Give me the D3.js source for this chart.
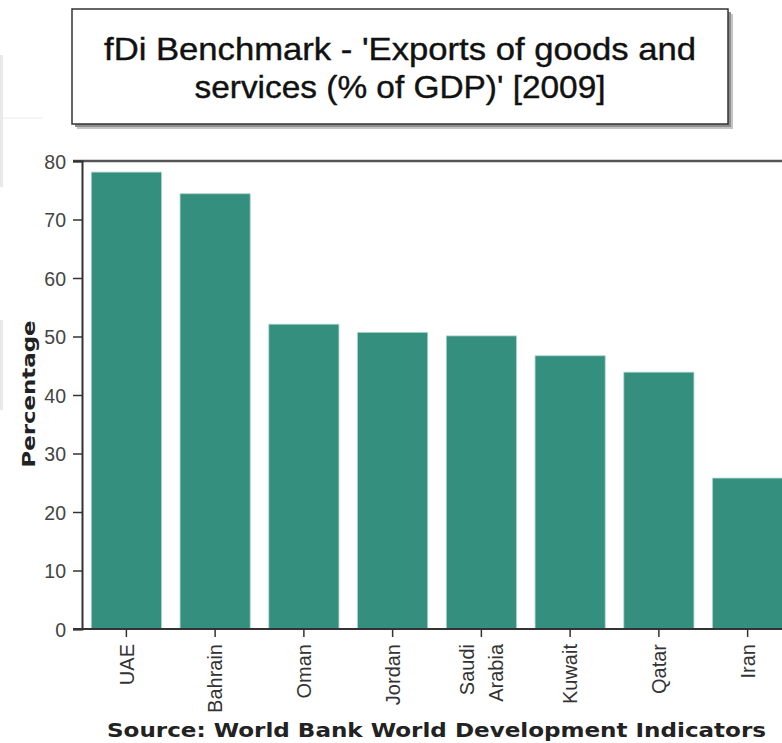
<!DOCTYPE html>
<html>
<head>
<meta charset="utf-8">
<script src="https://cdn.jsdelivr.net/npm/d3@7/dist/d3.min.js"></script>
<style>
  html, body { margin: 0; padding: 0; background: #fff; }
  svg { display: block; }
</style>
</head>
<body>
<script>
const categories = ["UAE", "Bahrain", "Oman", "Jordan", "Saudi Arabia", "Kuwait", "Qatar", "Iran"];
const values = [78.1, 74.4, 52.1, 50.7, 50.1, 46.7, 43.9, 25.8];
const yTicks = [0, 10, 20, 30, 40, 50, 60, 70, 80];
const titleLines = ["fDi Benchmark - 'Exports of goods and", "services (% of GDP)' [2009]"];
const yLabel = "Percentage";
const sourceText = "Source: World Bank World Development Indicators";

const W = 782, H = 743;
const svg = d3.select("body").append("svg").attr("width", W).attr("height", H);

// faint background artifacts at far left
svg.append("rect").attr("x", 0).attr("y", 55).attr("width", 3).attr("height", 132).attr("fill", "#e9e9e9");
svg.append("rect").attr("x", 3).attr("y", 117.5).attr("width", 40).attr("height", 1).attr("fill", "#ececec");
svg.append("rect").attr("x", 0).attr("y", 320).attr("width", 3).attr("height", 90).attr("fill", "#e9e9e9");

// title box with shadow
const tb = {x: 72, y: 9, w: 656, h: 115};
svg.append("rect").attr("x", tb.x + 5).attr("y", tb.y + 5).attr("width", tb.w).attr("height", tb.h).attr("fill", "#c4c4c4");
svg.append("rect").attr("x", tb.x + 3).attr("y", tb.y + 3).attr("width", tb.w).attr("height", tb.h).attr("fill", "#8f8f8f");
svg.append("rect").attr("x", tb.x).attr("y", tb.y).attr("width", tb.w).attr("height", tb.h)
  .attr("fill", "#fff").attr("stroke", "#333").attr("stroke-width", 1.5);
const titleLens = [592, 411];
const titleY = [60, 98];
titleLines.forEach((t, i) => {
  svg.append("text").attr("x", 400).attr("y", titleY[i]).attr("text-anchor", "middle")
    .attr("font-family", "Liberation Sans, Arial, sans-serif").attr("font-size", 32)
    .attr("fill", "#111").attr("stroke", "#111").attr("stroke-width", 0.4)
    .attr("textLength", titleLens[i]).attr("lengthAdjust", "spacingAndGlyphs")
    .text(t);
});

// scales
const x0 = 82, y0 = 629, yTop = 161;
const x = d3.scaleBand().domain(categories).range([x0, x0 + 8 * 88.75]).paddingInner(0.21).paddingOuter(0.105);
const y = d3.scaleLinear().domain([0, 80]).range([y0, yTop]);

// bars
svg.append("g").selectAll("rect").data(categories).join("rect")
  .attr("x", d => x(d)).attr("width", x.bandwidth())
  .attr("y", (d, i) => y(values[i])).attr("height", (d, i) => y0 - y(values[i]))
  .attr("fill", "#358f7e").attr("stroke", "#a9d3c8").attr("stroke-width", 0.8);

// top frame line
svg.append("line").attr("x1", 73).attr("x2", W).attr("y1", yTop).attr("y2", yTop)
  .attr("stroke", "#555").attr("stroke-width", 2.5);

// y axis
const yAxis = d3.axisLeft(y).tickValues(yTicks).tickSize(9).tickPadding(7).tickFormat(d3.format("d"));
const gy = svg.append("g").attr("transform", `translate(${x0},0)`).call(yAxis);
gy.select(".domain").attr("stroke", "#333").attr("stroke-width", 2);
gy.selectAll(".tick line").attr("stroke", "#333").attr("stroke-width", 1.5);
gy.selectAll(".tick text").attr("font-family", "Liberation Sans, Arial, sans-serif")
  .attr("font-size", 19.5).attr("fill", "#444").attr("dy", "0.36em");

// x axis
const xAxis = d3.axisBottom(x).tickSize(8).tickSizeOuter(0).tickFormat("");
const gx = svg.append("g").attr("transform", `translate(0,${y0})`).call(xAxis);
gx.select(".domain").attr("d", `M73,0H${W}`).attr("stroke", "#333").attr("stroke-width", 2);
gx.selectAll(".tick line").attr("stroke", "#333").attr("stroke-width", 1.5);

// x labels (rotated)
const labelG = svg.append("g");
categories.forEach(c => {
  const cx = x(c) + x.bandwidth() / 2;
  const parts = c.split(" ");
  const n = parts.length;
  parts.forEach((p, j) => {
    const off = (j - (n - 1) / 2) * 29;
    labelG.append("text")
      .attr("transform", `translate(${cx + off},644) rotate(-90)`)
      .attr("text-anchor", "end").attr("dy", "0.36em")
      .attr("font-family", "Liberation Sans, Arial, sans-serif").attr("font-size", 20)
      .attr("fill", "#333").text(p);
  });
});

// y axis label
svg.append("text").attr("transform", "translate(29,394) rotate(-90)")
  .attr("text-anchor", "middle").attr("dy", "0.36em")
  .attr("font-family", "DejaVu Sans, Verdana, sans-serif").attr("font-weight", "bold")
  .attr("font-size", 17.5).attr("fill", "#222")
  .attr("textLength", 147).attr("lengthAdjust", "spacingAndGlyphs").text(yLabel);

// source
svg.append("text").attr("x", 107).attr("y", 737)
  .attr("font-family", "DejaVu Sans, Verdana, sans-serif").attr("font-weight", "bold")
  .attr("font-size", 19.5).attr("fill", "#222")
  .attr("textLength", 659).attr("lengthAdjust", "spacingAndGlyphs").text(sourceText);
</script>
</body>
</html>
